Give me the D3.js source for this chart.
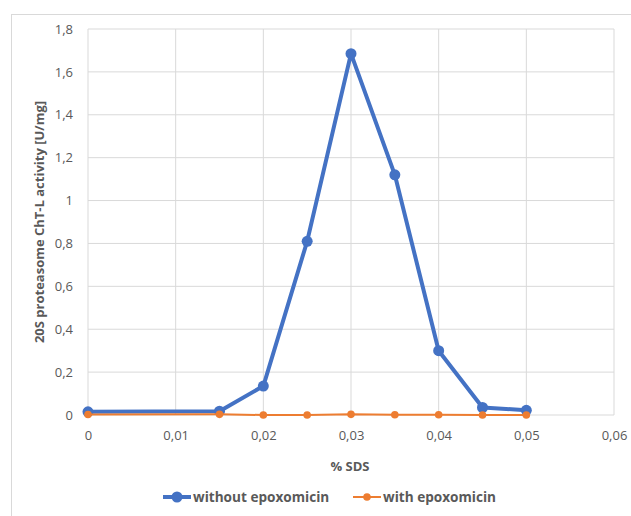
<!DOCTYPE html>
<html><head><meta charset="utf-8">
<script src="https://cdn.jsdelivr.net/npm/d3@7"></script>
<style>body{margin:0;background:#fff;}svg{display:block;font-family:"Open Sans",Lato,sans-serif;}</style>
</head><body><svg id="c" width="631" height="516"></svg>
<script>
const sds = [0, 0.015, 0.02, 0.025, 0.03, 0.035, 0.04, 0.045, 0.05];
const withoutEpo = [0.015, 0.018, 0.135, 0.81, 1.685, 1.12, 0.30, 0.035, 0.022];
const withEpo = [0.002, 0.003, 0.0, 0.0, 0.003, 0.001, 0.001, 0.0, 0.0];
const xTicks = [0, 0.01, 0.02, 0.03, 0.04, 0.05, 0.06];
const yTicks = [0, 0.2, 0.4, 0.6, 0.8, 1, 1.2, 1.4, 1.6, 1.8];
const seriesNames = ["without epoxomicin", "with epoxomicin"];

const svg = d3.select("#c");
const fmt = v => String(+v.toFixed(2)).replace(".", ",");
svg.append("rect").attr("x",11.5).attr("y",14.5).attr("width",640).attr("height",520)
  .attr("fill","#fff").attr("stroke","#d9d9d9");

const L=88,R=614,T=29,B=415;
const x = d3.scaleLinear().domain([0,0.06]).range([L,R]);
const y = d3.scaleLinear().domain([0,1.8]).range([B,T]);

const g = svg.append("g");
g.selectAll("line.v").data(xTicks).join("line")
  .attr("x1",d=>x(d)).attr("x2",d=>x(d)).attr("y1",T).attr("y2",B)
  .attr("stroke","#d9d9d9").attr("stroke-width",1);
g.selectAll("line.h").data(yTicks).join("line")
  .attr("x1",L).attr("x2",R).attr("y1",d=>y(d)).attr("y2",d=>y(d))
  .attr("stroke","#d9d9d9").attr("stroke-width",1);

const xAxis = svg.append("g").attr("transform",`translate(0,${B})`)
  .call(d3.axisBottom(x).tickValues(xTicks).tickFormat(fmt).tickSize(0).tickPadding(16));
xAxis.select(".domain").remove();
xAxis.selectAll("text").attr("fill","#595959").attr("font-size",13).attr("font-family","'Open Sans',sans-serif");
const yAxis = svg.append("g").attr("transform",`translate(${L},0)`)
  .call(d3.axisLeft(y).tickValues(yTicks).tickFormat(fmt).tickSize(0).tickPadding(15));
yAxis.select(".domain").remove();
yAxis.selectAll("text").attr("fill","#595959").attr("font-size",13).attr("font-family","'Open Sans',sans-serif");

svg.append("text").attr("x",350).attr("y",471).attr("text-anchor","middle")
  .attr("font-size",13).attr("font-weight","bold").attr("fill","#595959").text("% SDS");
svg.append("text").attr("transform",`translate(44,${(T+B)/2}) rotate(-90)`).attr("text-anchor","middle")
  .attr("font-size",13).attr("font-weight","bold").attr("fill","#595959").text("20S proteasome ChT-L activity [U/mg]");

const colors = ["#4472C4","#ED7D31"];
const data = [withoutEpo, withEpo];
const widths=[4,2], radii=[5.5,3.8];
const line = d3.line().x((d,i)=>x(sds[i])).y(d=>y(d));
data.forEach((s,k)=>{
  svg.append("path").datum(s).attr("d",line).attr("fill","none")
    .attr("stroke",colors[k]).attr("stroke-width",widths[k]).attr("stroke-linejoin","round");
  svg.append("g").selectAll("circle").data(s).join("circle")
    .attr("cx",(d,i)=>x(sds[i])).attr("cy",d=>y(d)).attr("r",radii[k]).attr("fill",colors[k]);
});

const legX=[163,353];
seriesNames.forEach((n,k)=>{
  const lg = svg.append("g").attr("transform",`translate(${legX[k]},497)`);
  lg.append("line").attr("x1",0).attr("x2",28).attr("stroke",colors[k]).attr("stroke-width",widths[k]);
  lg.append("circle").attr("cx",14).attr("r",radii[k]).attr("fill",colors[k]);
  lg.append("text").attr("x",30).attr("y",5).attr("font-size",13.6).attr("font-weight","bold")
    .attr("fill","#595959").text(n);
});
</script></body></html>
